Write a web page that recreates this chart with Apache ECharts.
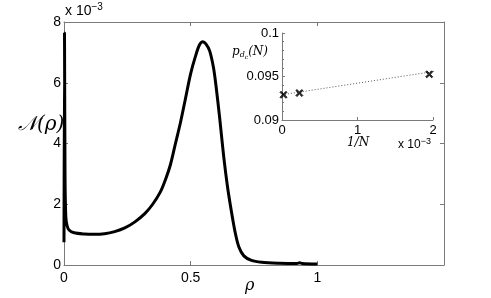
<!DOCTYPE html>
<html><head><meta charset="utf-8">
<script src="https://cdn.jsdelivr.net/npm/echarts@6/dist/echarts.min.js"></script>
<style>html,body{margin:0;padding:0;background:#fff}#c{width:491px;height:298px}</style>
</head><body><div id="c"></div>
<script>
// Main curve: rho vs N(rho) (units of 1e-3)
const rhoValues = [0,0.002,0.004,0.007,0.012,0.02,0.04,0.08,0.12,0.16,0.2,0.24,0.28,0.32,0.35,0.38,0.40,0.42,0.44,0.46,0.48,0.50,0.52,0.535,0.548,0.56,0.575,0.59,0.60,0.615,0.63,0.645,0.66,0.675,0.69,0.71,0.74,0.78,0.85,0.92,0.93,0.94,1.0];
const densityValues = [0.75,7.65,3.0,1.6,1.3,1.15,1.06,1.02,1.01,1.03,1.1,1.22,1.42,1.7,2.0,2.4,2.8,3.3,4.0,4.7,5.5,6.3,6.9,7.25,7.35,7.28,7.05,6.5,5.9,4.8,3.6,2.6,1.8,1.1,0.6,0.3,0.15,0.09,0.06,0.05,0.07,0.05,0.03];
const mainXTicks = ["0","0.5","1"];
const mainYTicks = ["0","2","4","6","8"];
// Inset: 1/N (units of 1e-3) vs p_dc(N)
const invN = [0.02,0.23,1.95];
const pdc = [0.0929,0.0931,0.09525];
const fitX = [0,2.1];
const fitY = [0.0929,0.0957];
const insetXTicks = ["0","1","2"];
const insetYTicks = ["0.09","0.095","0.1"];

const chart = echarts.init(document.getElementById('c'), null, {renderer:'canvas'});
const axisCol = '#7a7a7a';
const lblFont = {color:'#000', fontSize:14, fontFamily:'Liberation Sans, Arial, sans-serif'};
const mainData = rhoValues.map((x,i)=>[x,densityValues[i]]);
chart.setOption({
  animation:false,
  grid:[
    {left:64,top:22,width:380,height:243,show:false},
    {left:282,top:33,width:151,height:87,show:false,z:5}
  ],
  xAxis:[
    {gridIndex:0,type:'value',min:0,max:1.5,interval:0.5,position:'bottom',
     axisLine:{show:true,lineStyle:{color:axisCol,width:1}},
     axisTick:{show:true,inside:true,length:4,lineStyle:{color:axisCol}},
     splitLine:{show:false},
     axisLabel:Object.assign({margin:6,formatter:v=>{const i=Math.round(v/0.5);return i<mainXTicks.length?mainXTicks[i]:'';}},lblFont)},
    {gridIndex:0,type:'value',min:0,max:1.5,interval:0.5,position:'top',
     axisLine:{show:true,onZero:false,lineStyle:{color:axisCol,width:1}},
     axisTick:{show:true,inside:true,length:4,lineStyle:{color:axisCol}},
     splitLine:{show:false},axisLabel:{show:false}},
    {gridIndex:1,type:'value',min:0,max:2,interval:1,
     axisLine:{show:true,lineStyle:{color:axisCol,width:1}},
     axisTick:{show:true,inside:true,length:3,lineStyle:{color:axisCol}},
     splitLine:{show:false},
     axisLabel:Object.assign({margin:4,formatter:v=>insetXTicks[Math.round(v)]},lblFont,{fontSize:13})}
  ],
  yAxis:[
    {gridIndex:0,type:'value',min:0,max:8,interval:2,position:'left',
     axisLine:{show:true,onZero:false,lineStyle:{color:axisCol,width:1}},
     axisTick:{show:true,inside:true,length:4,lineStyle:{color:axisCol}},
     splitLine:{show:false},
     axisLabel:Object.assign({margin:3,formatter:v=>mainYTicks[Math.round(v/2)]},lblFont)},
    {gridIndex:0,type:'value',min:0,max:8,interval:2,position:'right',
     axisLine:{show:true,onZero:false,lineStyle:{color:axisCol,width:1}},
     axisTick:{show:true,inside:true,length:4,lineStyle:{color:axisCol}},
     splitLine:{show:false},axisLabel:{show:false}},
    {gridIndex:1,type:'value',min:0.09,max:0.1,interval:0.005,
     axisLine:{show:true,lineStyle:{color:axisCol,width:1}},
     axisTick:{show:true,inside:true,length:3,lineStyle:{color:axisCol}},
     minorTick:{show:true,splitNumber:5,length:2,lineStyle:{color:axisCol}},
     splitLine:{show:false},
     axisLabel:Object.assign({margin:3,formatter:v=>{const i=Math.round((v-0.09)/0.005);return insetYTicks[i];}},lblFont,{fontSize:13})}
  ],
  series:[
    {type:'line',xAxisIndex:0,yAxisIndex:0,data:mainData,showSymbol:false,smooth:0.3,
     lineStyle:{color:'#000',width:3},z:3},
    {type:'line',xAxisIndex:2,yAxisIndex:2,data:fitX.map((x,i)=>[x,fitY[i]]),showSymbol:false,clip:false,
     lineStyle:{color:'#555',width:1,type:[1,2]},z:6},
    {type:'scatter',xAxisIndex:2,yAxisIndex:2,data:invN.map((x,i)=>[x,pdc[i]]),
     symbol:'path://M0,1.5L1.5,0L5,3.5L8.5,0L10,1.5L6.5,5L10,8.5L8.5,10L5,6.5L1.5,10L0,8.5L3.5,5Z',symbolSize:7,
     itemStyle:{color:'#000',borderColor:'#000',borderWidth:1},z:7}
  ],
  graphic:[
    {type:'rect',shape:{x:234,y:28,width:206,height:125},style:{fill:'#fff'},z:-1,silent:true},
    {type:'text',left:65,top:2,style:{text:'{a|x 10}{s|−3}',rich:{a:{fontSize:14,fontFamily:'Liberation Sans, Arial',fill:'#000'},s:{fontSize:10,fontFamily:'Liberation Sans, Arial',fill:'#000',verticalAlign:'top',padding:[0,0,8,0]}}}},
    {type:'text',left:18,top:115,style:{text:'𝒩(ρ)',font:'italic 20px "DejaVu Serif", serif',fill:'#000'}},
    {type:'text',left:245,top:278,style:{text:'ρ',font:'italic 16px "DejaVu Serif", serif',fill:'#000'}},
    {type:'text',left:232,top:46,style:{text:'{p|p}{d|d}{c|c}{n|(N)}',rich:{
      p:{font:'italic 12px "DejaVu Serif", serif',fill:'#000'},
      d:{font:'italic 8px "DejaVu Serif", serif',fill:'#000',padding:[6,0,0,0]},
      c:{font:'italic 6px "DejaVu Serif", serif',fill:'#000',padding:[10,0,0,0]},
      n:{font:'italic 12px "DejaVu Serif", serif',fill:'#000'}}}},
    {type:'text',left:347,top:137,style:{text:'1/N',font:'italic 12px "DejaVu Serif", serif',fill:'#000'}},
    {type:'text',left:398,top:137,style:{text:'{a|x 10}{s|−3}',rich:{a:{fontSize:12,fontFamily:'Liberation Sans, Arial',fill:'#000'},s:{fontSize:9,fontFamily:'Liberation Sans, Arial',fill:'#000',verticalAlign:'top',padding:[0,0,7,0]}}}}
  ]
});
</script></body></html>
